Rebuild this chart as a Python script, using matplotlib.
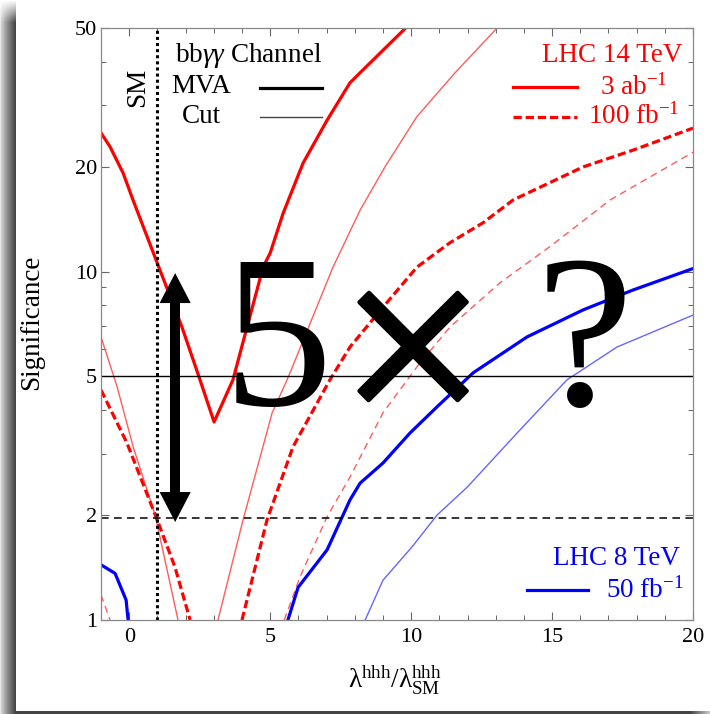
import numpy as np
import matplotlib
matplotlib.use('Agg')
import matplotlib.pyplot as plt
import matplotlib.patheffects as pe
from matplotlib.ticker import FixedLocator, FixedFormatter, NullFormatter

plt.rcParams['font.family'] = ['Liberation Serif', 'DejaVu Serif']
plt.rcParams['mathtext.fontset'] = 'custom'
plt.rcParams['mathtext.rm'] = 'Liberation Serif'
plt.rcParams['mathtext.it'] = 'Liberation Serif:italic'
plt.rcParams['mathtext.bf'] = 'Liberation Serif:bold'

nan = np.nan

# LHC 14 TeV, 3 ab^-1, MVA (thick solid red)
mva3_x = [-1, -0.68, -0.22, 0.14, 0.99, 1.87, 2.51, 3.01, 3.68, 4.18, 4.75, 5.0, 5.46, 6.17, 7.02, 7.83, 8.19, 9.85]
mva3_y = [25, 22.8, 19.2, 16.0, 10.6, 6.93, 4.89, 3.70, 4.89, 6.93, 10.3, 11.3, 14.7, 20.5, 27.2, 34.8, 37.2, 50.4]
# LHC 14 TeV, 3 ab^-1, Cut (thin solid red)
cut3_x = [-1, -0.43, 0.14, 0.92, 1.73, nan, 3.15, 4.04, 5.07, 5.63, 7.23, 8.19, 9.07, 10.2, 11.56, 13.05]
cut3_y = [6.49, 4.67, 3.14, 2.0, 1.0, nan, 1.0, 1.94, 3.93, 4.95, 10.3, 15.0, 19.96, 27.8, 37.2, 50.0]
# LHC 14 TeV, 100 fb^-1, MVA (thick dashed red)
mva100_x = [-1, -0.08, 0.99, 1.62, 2.16, nan, 4.0, 4.89, 5.81, 7.12, 7.83, 9.0, 10.21, 11.38, 12.55, 13.62, 16.1, 17.87, 20]
mva100_y = [4.57, 3.22, 1.94, 1.42, 1.0, nan, 1.0, 1.94, 3.14, 4.89, 6.07, 7.9, 10.3, 12.1, 13.8, 16.05, 19.96, 22.3, 25.8]
# LHC 14 TeV, 100 fb^-1, Cut (thin dashed red)
cut100_x = [-1, -0.68, nan, 5.5, 6.06, 7.02, 7.83, 9.0, 10.21, 11.38, 13.15, 14.93, 17.06, 20]
cut100_y = [1.18, 1.0, nan, 1.0, 1.33, 1.98, 2.57, 3.93, 5.33, 6.93, 9.28, 11.8, 16.05, 22.0]
# LHC 8 TeV, 50 fb^-1, MVA (thick solid blue)
mva50_x = [-1, -0.5, -0.11, -0.04, nan, 5.63, 5.99, 7.02, 7.83, 8.19, 9.0, 9.96, 10.92, 12.2, 14.11, 16.1, 17.87, 20]
mva50_y = [1.44, 1.36, 1.14, 1.0, nan, 1.0, 1.24, 1.59, 2.21, 2.47, 2.82, 3.44, 4.09, 5.12, 6.49, 7.76, 8.85, 10.2]
# LHC 8 TeV, 50 fb^-1, Cut (thin solid blue)
cut50_x = [8.37, 9.0, 10.03, 10.92, 12.0, 13.76, 15.53, 17.3, 20]
cut50_y = [1.0, 1.30, 1.62, 2.0, 2.41, 3.44, 4.89, 6.07, 7.5]

x_major = [0, 5, 10, 15, 20]
x_minor = list(range(-1, 21))
y_major = [1, 2, 5, 10, 20, 50]
y_labels = ['1', '2', '5', '10', '20', '50']
y_minor = [3, 4, 6, 7, 8, 9, 30, 40]

RED = '#ff0000'
RED_THIN = '#ff5c5c'
BLUE = '#0000ff'
BLUE_THIN = '#6666ff'
THICK_DASH = (2.6, 1.2)
THIN_DASH = (5, 3.5)

fig = plt.figure(figsize=(7.1, 7.14), dpi=100)

# drop shadow around the page (left and bottom), transparent elsewhere
shade = np.ones((714, 710))
t = np.linspace(0, 1, 16)
shade[:, :16] = 0.9 - 0.63 * t ** 0.8
fade = np.clip(np.arange(714) / 22.0, 0, 1)[:, None]
shade[:, :16] = 1 - (1 - shade[:, :16]) * fade
shade[711:, 16:] = 0.27
shade[711:, 690:] = 1 - 0.73 * np.linspace(1, 0.3, 20)
rgba = np.zeros((714, 710, 4))
rgba[..., 0] = rgba[..., 1] = rgba[..., 2] = shade
rgba[..., 3] = (shade < 0.999).astype(float)
fig.figimage(rgba, origin='upper', zorder=0)

ax = fig.add_axes([0.1423, 0.1317, 0.8338, 0.8291])
ax.set_zorder(1)
ax.set_yscale('log')

ax.plot(cut3_x, cut3_y, color=RED_THIN, lw=1.0)
ax.plot(cut100_x, cut100_y, color=RED_THIN, lw=1.0, dashes=THIN_DASH)
ax.plot(cut50_x, cut50_y, color=BLUE_THIN, lw=1.0)
ax.plot(mva3_x, mva3_y, color=RED, lw=2.3)
ax.plot(mva100_x, mva100_y, color=RED, lw=2.3, dashes=THICK_DASH)
ax.plot(mva50_x, mva50_y, color=BLUE, lw=2.3)

ax.axhline(5, color='black', lw=1.0)
ax.axhline(1.96, color='black', lw=1.1, dashes=(5, 3.5))
ax.axvline(1, color='black', lw=2.2, dashes=(1, 1))

ax.set_xlim(-1, 20)
ax.set_ylim(1, 50)
ax.xaxis.set_major_locator(FixedLocator(x_major))
ax.xaxis.set_minor_locator(FixedLocator(x_minor))
ax.yaxis.set_major_locator(FixedLocator(y_major))
ax.yaxis.set_major_formatter(FixedFormatter(y_labels))
ax.yaxis.set_minor_locator(FixedLocator(y_minor))
ax.yaxis.set_minor_formatter(NullFormatter())
ax.tick_params(which='both', direction='in', top=True, right=True, color='#666666', labelsize=16)
ax.tick_params(which='major', length=6, width=0.8)
ax.tick_params(which='minor', length=3.5, width=0.7)
ax.tick_params(axis='y', pad=3)
ax.tick_params(axis='x', pad=6)
for s in ax.spines.values():
    s.set_color('#888888')
    s.set_linewidth(0.9)

ax.set_ylabel('Significance', fontsize=19.5)
ax.yaxis.set_label_coords(-0.096, 0.502)
ax.set_xlabel('λ$^{\\mathrm{hhh}}$/λ$^{\\mathrm{hhh}}_{\\mathrm{SM}}$', fontsize=19.5)
ax.xaxis.set_label_coords(0.497, -0.074)

tr = ax.transAxes
ax.text(0.061, 0.900, 'SM', rotation=90, fontsize=19.5, ha='center', va='center', transform=tr)
ax.text(0.25, 0.953, 'bb$\\gamma\\gamma$ Channel', fontsize=19.5, ha='center', va='center', transform=tr)
ax.text(0.169, 0.902, 'MVA', fontsize=19.5, ha='center', va='center', transform=tr)
ax.text(0.169, 0.851, 'Cut', fontsize=19.5, ha='center', va='center', transform=tr)
ax.plot([0.269, 0.373], [0.899, 0.899], color='black', lw=2.3, transform=tr)
ax.plot([0.269, 0.373], [0.850, 0.850], color='#444444', lw=1.0, transform=tr)

ax.text(0.983, 0.953, 'LHC 14 TeV', color=RED, fontsize=19.5, ha='right', va='center', transform=tr)
ax.plot([0.696, 0.804], [0.900, 0.900], color=RED, lw=2.3, transform=tr)
ax.plot([0.696, 0.804], [0.850, 0.850], color=RED, lw=2.3, dashes=THICK_DASH, transform=tr)
ax.text(0.899, 0.900, '3 ab$^{-1}$', color=RED, fontsize=19.5, ha='center', va='center', transform=tr)
ax.text(0.899, 0.850, '100 fb$^{-1}$', color=RED, fontsize=19.5, ha='center', va='center', transform=tr)

ax.text(0.978, 0.103, 'LHC 8 TeV', color=BLUE, fontsize=19.5, ha='right', va='center', transform=tr)
ax.plot([0.72, 0.823], [0.0507, 0.0507], color=BLUE, lw=2.3, transform=tr)
ax.text(0.919, 0.050, '50 fb$^{-1}$', color=BLUE, fontsize=19.5, ha='center', va='center', transform=tr)

# big overlay "5 x ?"
ax.text(0.299, 0.363, '5', fontsize=158, ha='center', va='baseline', transform=tr)
ax.text(0.527, 0.421, '×', fontsize=190, ha='center', va='center', transform=tr,
        path_effects=[pe.withStroke(linewidth=3, foreground='black')])
ax.text(0.816, 0.363, '?', fontsize=158, ha='center', va='baseline', transform=tr)

# double arrow
ax.plot([1.63, 1.63], [8.6, 2.2], color='black', lw=7.2, solid_capstyle='butt')
ax.annotate('', xy=(1.63, 9.9), xytext=(1.63, 1.91),
            arrowprops=dict(arrowstyle='<|-|>,head_length=1.08,head_width=0.56',
                            mutation_scale=20, lw=0, color='black', shrinkA=0, shrinkB=0))

fig.savefig('out.png', dpi=100)
